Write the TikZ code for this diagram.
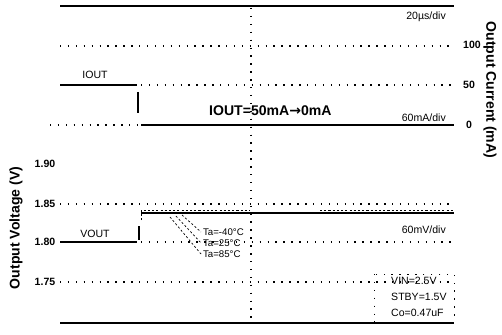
\documentclass[tikz,border=0pt]{standalone}
\usepackage{fontspec}
\setmainfont{Liberation Sans}
\newfontfamily\arrowfont{DejaVu Sans}
\usetikzlibrary{positioning}

\begin{document}
\begin{tikzpicture}[x=0.02cm, y=-0.02cm,
    grid/.style={line width=0.7pt, dash pattern=on 0.8pt off 3.7pt},
    trace/.style={line width=0.9pt},
    frame/.style={line width=1.1pt},
    leader/.style={line width=0.4pt, dash pattern=on 1.2pt off 1.2pt},
    tick/.style={font=\fontsize{6}{7}\selectfont\bfseries},
    lbl/.style={font=\fontsize{6}{7}\selectfont},
    temp/.style={font=\fontsize{5.5}{6}\selectfont, anchor=west, inner sep=1pt},
    axis/.style={font=\fontsize{8}{9}\selectfont\bfseries}]
    \useasboundingbox (0,0) rectangle (502,334);

    % frame and grid
    \draw [frame] (60,6) -- (454,6);
    \draw [frame] (60,323) -- (454,323);
    \draw [grid] (251,8) -- (251,320);
    \draw [grid] (60,46) -- (454,46);
    \draw [grid] (141,85) -- (454,85);
    \draw [grid] (50,125) -- (138,125);
    \draw [grid] (60,204) -- (454,204);
    \draw [grid] (141,242) -- (454,242);
    \draw [grid] (60,282) -- (454,282);

    % output current
    \draw [trace] (60,85) -- (137,85);
    \draw [trace] (138,92) -- (138,113);
    \draw [trace] (141,125) -- (454,125);

    % output voltage
    \draw [trace] (60,242) -- (137,242);
    \draw [trace] (139,226) -- (139,240);
    \draw [line width=1.3pt] (141,213) -- (454,213);
    \draw [leader] (141,220) -- (141,210) -- (250,210);
    \draw [leader] (320,210) -- (454,210);

    % temperature labels
    \node [temp] (t40) at (201,232) {Ta=-40°C};
    \node [temp] (t25) at (201,243) {Ta=25°C};
    \node [temp] (t85) at (201,254) {Ta=85°C};
    \coordinate (c40) at (182,215);
    \coordinate (c25) at (176,216);
    \coordinate (c85) at (170,217);
    \draw [leader] (c40) -- (t40.west);
    \draw [leader] (c25) -- (t25.west);
    \draw [leader] (c85) -- (t85.west);

    % tick labels
    \node [tick] (v190) at (45,164) {1.90};
    \node [tick] (v185) at (45,204) {1.85};
    \node [tick] (v180) at (45,242) {1.80};
    \node [tick] (v175) at (45,282) {1.75};
    \node [tick, anchor=west] (i100) at (457,45) {100};
    \node [tick, anchor=west] (i50) at (457,85) {50};
    \node [tick, anchor=west] (i0) at (460,125) {0};

    % axis titles
    \node [axis, rotate=90] (vtitle) at (16,228) {Output Voltage (V)};
    \node [axis, rotate=-90] (ititle) at (490,90) {Output Current (mA)};

    % trace labels
    \node [lbl] (iout) at (95,75) {IOUT};
    \node [lbl] (vout) at (95,234) {VOUT};
    \node [axis, anchor=west] (step) at (203,111) {IOUT=50mA{\arrowfont→}0mA};
    \node [lbl, anchor=east] (tdiv) at (452,17) {20µs/div};
    \node [lbl, anchor=east] (idiv) at (452,118) {60mA/div};
    \node [lbl, anchor=east] (vdiv) at (452,230) {60mV/div};

    % conditions
    \draw [grid, line width=0.4pt] (374,274) rectangle (454,322);
    \node [lbl, anchor=west] (vin) at (385,281) {VIN=2.5V};
    \node [lbl, anchor=west] (stby) at (385,297) {STBY=1.5V};
    \node [lbl, anchor=west] (co) at (385,313) {Co=0.47uF};
\end{tikzpicture}
\end{document}
